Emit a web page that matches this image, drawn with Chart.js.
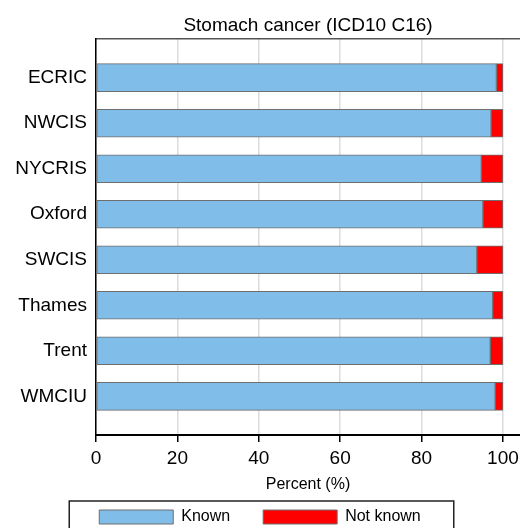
<!DOCTYPE html>
<html>
<head>
<meta charset="utf-8">
<script src="https://cdn.jsdelivr.net/npm/chart.js@4.4.1/dist/chart.umd.min.js"></script>
<style>
  body{margin:0;background:#fff;}
  #wrap{position:relative;width:520px;height:528px;}
</style>
</head>
<body>
<div id="wrap"><canvas id="myChart" width="520" height="528"></canvas></div>
<script>
// values (percent of cases)
const regions = ['ECRIC','NWCIS','NYCRIS','Oxford','SWCIS','Thames','Trent','WMCIU'];
const known = [98.4, 97.1, 94.7, 95.1, 93.6, 97.5, 96.9, 98.1];
const notKnown = [1.6, 2.9, 5.3, 4.9, 6.4, 2.5, 3.1, 1.9];
const xTicks = [0, 20, 40, 60, 80, 100];

Chart.defaults.font.family = "'Liberation Sans', Arial, sans-serif";
Chart.defaults.color = '#000';

const toPoints = arr => arr.map((v, i) => ({x: v, y: i}));

// legend sits low, with a frame round it
const legendFrame = {
  id: 'legendFrame',
  beforeLayout(chart){
    const lg = chart.legend;
    if (!lg || lg._patched) return;
    const fit = lg.fit;
    lg.fit = function(){
      fit.bind(lg)();
      this.height = 52;
    };
    lg._patched = true;
  },
  afterDraw(chart){
    const hb = chart.legend.legendHitBoxes;
    if (!hb || !hb.length) return;
    const last = hb[hb.length - 1];
    const left = hb[0].left - 30;
    const right = last.left + last.width + 33;
    const top = hb[0].top - 8;
    const ctx = chart.ctx;
    ctx.save();
    ctx.strokeStyle = '#222';
    ctx.lineWidth = 1.5;
    ctx.strokeRect(left, top, right - left, 60);
    ctx.restore();
  }
};

const ctx = document.getElementById('myChart').getContext('2d');
const myChart = new Chart(ctx, {
  type: 'bar',
  data: {
    datasets: [
      {
        label: 'Known',
        data: toPoints(known),
        backgroundColor: '#80bde8',
        borderColor: '#6e6e6e',
        borderWidth: 1,
        borderSkipped: false,
        barThickness: 28
      },
      {
        label: 'Not known',
        data: toPoints(notKnown),
        backgroundColor: '#ff0000',
        borderColor: '#6e6e6e',
        borderWidth: 1,
        borderSkipped: false,
        barThickness: 28
      }
    ]
  },
  options: {
    indexAxis: 'y',
    responsive: false,
    animation: false,
    devicePixelRatio: 1,
    layout: {padding: 0},
    plugins: {
      tooltip: {enabled: false},
      legend: {
        display: true,
        position: 'bottom',
        labels: {
          boxWidth: 74,
          boxHeight: 14,
          padding: 33,
          color: '#000',
          font: {size: 16}
        }
      }
    },
    scales: {
      x: {
        type: 'linear',
        position: 'bottom',
        stacked: true,
        min: 0,
        max: 104.2,
        afterBuildTicks: s => { s.ticks = xTicks.map(v => ({value: v})); },
        afterFit: s => { s.height = 41; s.paddingRight = 0; s.paddingLeft = 0; },
        grid: {color: '#dcdcdc', lineWidth: 1.5, tickColor: '#000', tickLength: 7},
        border: {color: '#000', width: 2},
        ticks: {font: {size: 19}, color: '#000', padding: 5, maxRotation: 0},
        title: {display: true, text: 'Percent (%)', font: {size: 16}, color: '#000', padding: {top: 0, bottom: -18}}
      },
      x2: {
        type: 'linear',
        position: 'top',
        min: 0,
        max: 104.2,
        afterFit: s => { s.height = 39; s.paddingRight = 0; s.paddingLeft = 0; },
        grid: {display: false, drawTicks: false},
        border: {color: '#555', width: 1.5},
        ticks: {display: false},
        title: {display: true, text: 'Stomach cancer (ICD10 C16)', font: {size: 19}, color: '#000', padding: {top: 14, bottom: 0}}
      },
      y: {
        type: 'linear',
        stacked: true,
        reverse: true,
        offset: false,
        min: -0.85,
        max: 7.85,
        afterBuildTicks: s => { s.ticks = regions.map((r, i) => ({value: i})); },
        afterFit: s => { s.width = 96; },
        grid: {display: false, drawTicks: false, offset: false},
        border: {color: '#000', width: 1.5},
        ticks: {font: {size: 19}, color: '#000', padding: 9, callback: v => regions[v]}
      }
    }
  },
  plugins: [legendFrame]
});
</script>
</body>
</html>
